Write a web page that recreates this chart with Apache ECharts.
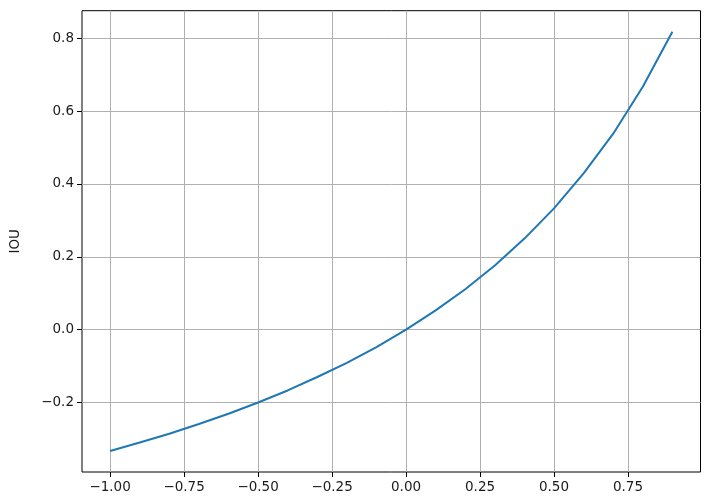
<!DOCTYPE html>
<html>
<head>
<meta charset="utf-8">
<script src="https://cdn.jsdelivr.net/npm/echarts@6/dist/echarts.min.js"></script>
<style>html,body{margin:0;padding:0;background:#fff;}#c{width:716px;height:503px;}</style>
</head>
<body>
<div id="c"></div>
<script>
const xValues = [-1.0, -0.9, -0.8, -0.7, -0.6, -0.5, -0.4, -0.3, -0.2, -0.1, 0.0, 0.1, 0.2, 0.3, 0.4, 0.5, 0.6, 0.7, 0.8, 0.9];
const iouValues = [-0.333, -0.310, -0.286, -0.259, -0.231, -0.200, -0.167, -0.130, -0.091, -0.048, 0.0, 0.053, 0.111, 0.176, 0.250, 0.333, 0.429, 0.538, 0.667, 0.818];
const xTicks = [-1.0, -0.75, -0.5, -0.25, 0.0, 0.25, 0.5, 0.75];
const yTicks = [-0.2, 0.0, 0.2, 0.4, 0.6, 0.8];
const yName = 'IOU';

const fmt = (v, d) => (v < 0 ? '\u2212' : '') + Math.abs(v).toFixed(d);
const chart = echarts.init(document.getElementById('c'), null, {renderer: 'canvas'});
const font = {fontFamily: 'DejaVu Sans', fontSize: 13.5, color: '#1a1a1a'};
chart.setOption({
  animation: false,
  backgroundColor: '#fff',
  grid: {left: 80.5, right: 15.5, top: 10.7, bottom: 31, show: true, borderColor: '#000', borderWidth: 1, backgroundColor: 'transparent'},
  xAxis: {
    type: 'value', min: -1.095, max: 0.995,
    axisLine: {show: false, onZero: false},
    axisTick: {show: true, customValues: xTicks, length: 5, inside: false, lineStyle: {color: '#000', width: 1}},
    axisLabel: Object.assign({customValues: xTicks, margin: 8, formatter: v => fmt(v, 2)}, font),
    splitLine: {show: true, lineStyle: {color: '#b0b0b0', width: 1}}
  },
  yAxis: {
    type: 'value', min: -0.3909, max: 0.8758,
    name: yName, nameLocation: 'middle', nameGap: 60, nameRotate: 90,
    nameTextStyle: font,
    axisLine: {show: false, onZero: false},
    axisTick: {show: true, customValues: yTicks, length: 5, inside: false, lineStyle: {color: '#000', width: 1}},
    axisLabel: Object.assign({customValues: yTicks, margin: 8, formatter: v => fmt(v, 1)}, font),
    splitLine: {show: true, lineStyle: {color: '#b0b0b0', width: 1}}
  },
  series: [{
    type: 'line',
    data: xValues.map((x, i) => [x, iouValues[i]]),
    showSymbol: false,
    lineStyle: {color: '#1f77b4', width: 2},
    z: 3
  }]
});
</script>
</body>
</html>
